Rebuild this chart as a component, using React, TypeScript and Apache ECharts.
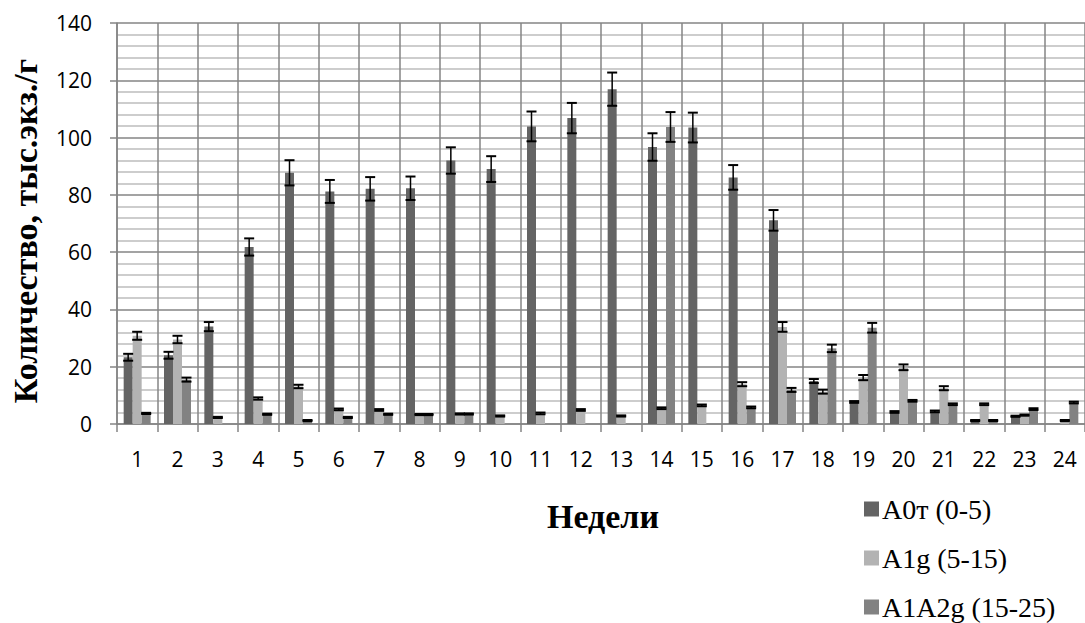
import React, { useEffect, useRef } from "react";
import * as echarts from "echarts";

const weeks = ["1","2","3","4","5","6","7","8","9","10","11","12","13","14","15","16","17","18","19","20","21","22","23","24"];
const seriesNames = ["A0т (0-5)", "A1g (5-15)", "A1A2g (15-25)"];
const yTicks = [0, 20, 40, 60, 80, 100, 120, 140];

const a0t = [23.3, 24.0, 34.0, 61.8, 87.7, 81.2, 82.1, 82.3, 92.0, 89.0, 103.9, 106.8, 116.9, 96.7, 103.5, 86.1, 71.1, 15.0, 7.7, 4.2, 4.4, 1.2, 2.7, null];
const a0tErr = [1.2, 1.2, 1.6, 3.0, 4.4, 4.0, 4.1, 4.1, 4.6, 4.5, 5.2, 5.3, 5.8, 4.8, 5.2, 4.3, 3.6, 0.7, 0.3, 0.3, 0.3, 0.2, 0.2, 0];
const a1g = [30.8, 29.5, 2.3, 8.9, 13.1, 5.1, 4.9, 3.3, 3.5, 2.8, 3.7, 4.9, 2.8, 5.5, 6.5, 13.9, 33.9, 11.3, 16.2, 19.8, 12.5, 6.9, 3.1, 1.2];
const a1gErr = [1.4, 1.3, 0.2, 0.4, 0.6, 0.3, 0.3, 0.2, 0.2, 0.2, 0.3, 0.3, 0.2, 0.3, 0.3, 0.7, 1.7, 0.7, 0.9, 1.0, 0.7, 0.3, 0.2, 0.2];
const a1a2g = [3.7, 15.5, null, 3.4, 1.2, 2.3, 3.4, 3.3, 3.5, null, null, null, null, 103.7, null, 5.8, 11.9, 26.4, 33.6, 8.1, 6.9, 1.2, 5.2, 7.5];
const a1a2gErr = [0.2, 0.7, 0, 0.2, 0.2, 0.2, 0.2, 0.2, 0.2, 0, 0, 0, 0, 5.2, 0, 0.3, 0.7, 1.3, 1.7, 0.3, 0.3, 0.2, 0.3, 0.3];

const colors = ["#646464", "#b3b3b3", "#828282"];
const BAR_W = 9;

function errData(vals: (number | null)[], errs: number[]) {
  const out: any[] = [];
  vals.forEach((v, i) => {
    if (v !== null && v !== undefined) out.push([i, v, errs[i]]);
  });
  return out;
}

function errSeries(vals: (number | null)[], errs: number[], idx: number) {
  const offset = (idx - 1) * BAR_W;
  return {
    type: "custom",
    name: seriesNames[idx] + " err",
    z: 5,
    silent: true,
    data: errData(vals, errs),
    encode: { x: 0, y: 1 },
    renderItem: (params: any, api: any) => {
      const x = api.value(0);
      const v = api.value(1);
      const e = api.value(2);
      const hi = api.coord([x, v + e]);
      const lo = api.coord([x, v - e]);
      const cx = hi[0] + offset;
      const half = 5;
      const st = { stroke: "#000", lineWidth: 2 };
      return {
        type: "group",
        children: [
          { type: "line", shape: { x1: cx, y1: hi[1], x2: cx, y2: lo[1] }, style: { stroke: "#000", lineWidth: 1.5 } },
          { type: "line", shape: { x1: cx - half, y1: hi[1], x2: cx + half, y2: hi[1] }, style: st },
          { type: "line", shape: { x1: cx - half, y1: lo[1], x2: cx + half, y2: lo[1] }, style: st },
        ],
      };
    },
  };
}

export default function App() {
  const ref = useRef<HTMLDivElement>(null);
  useEffect(() => {
    document.body.style.margin = "0";
    const chart = echarts.init(ref.current!, null, { renderer: "svg" });
    const gridColor = "#858585";
    const labelFont = "'Open Sans', 'Liberation Sans', sans-serif";
    const serif = "'Liberation Serif', 'DejaVu Serif', serif";
    chart.setOption({
      animation: false,
      backgroundColor: "#ffffff",
      color: colors,
      grid: { left: 117, top: 23, right: -4, bottom: 199, containLabel: false },
      legend: {
        orient: "vertical",
        left: 859,
        top: 490,
        height: 133,
        icon: "rect",
        itemWidth: 15,
        itemHeight: 15,
        itemGap: 21,
        data: seriesNames,
        textStyle: { fontFamily: serif, fontSize: 28, color: "#000", padding: [0, 0, 0, -2] },
      },
      xAxis: {
        type: "category",
        data: weeks,
        axisLine: { lineStyle: { color: gridColor, width: 1.5 } },
        axisTick: { show: true, length: 8, lineStyle: { color: gridColor, width: 1.5 } },
        splitLine: { show: true, interval: 0, lineStyle: { color: gridColor, width: 1.5 } },
        axisLabel: { interval: 0, margin: 24, fontSize: 21, color: "#000", fontFamily: labelFont },
      },
      yAxis: {
        type: "value",
        min: 0,
        max: 140,
        interval: 20,
        axisLine: { show: true, lineStyle: { color: gridColor, width: 1.5 } },
        axisTick: { show: true, length: 7, lineStyle: { color: gridColor, width: 1.5 } },
        splitLine: { show: true, lineStyle: { color: gridColor, width: 1.5 } },
        minorTick: { show: false, splitNumber: 5 },
        minorSplitLine: { show: true, lineStyle: { color: "#bdbdbd", width: 1.5 } },
        axisLabel: {
          margin: 25,
          fontSize: 21,
          color: "#000",
          fontFamily: labelFont,
          formatter: (v: number) => (yTicks.includes(v) ? String(v) : ""),
        },
      },
      graphic: [
        {
          type: "text",
          x: 25,
          y: 231,
          rotation: Math.PI / 2,
          style: {
            text: "Количество, тыс.экз./г",
            fontFamily: serif,
            fontWeight: "bold",
            fontSize: 34,
            fill: "#000",
            textAlign: "center",
            textVerticalAlign: "middle",
          },
        },
        {
          type: "text",
          x: 603,
          y: 516,
          style: {
            text: "Недели",
            fontFamily: serif,
            fontWeight: "bold",
            fontSize: 34,
            fill: "#000",
            textAlign: "center",
            textVerticalAlign: "middle",
          },
        },
      ],
      series: [
        { type: "bar", name: seriesNames[0], data: a0t, barWidth: BAR_W, barGap: "0%", itemStyle: { color: colors[0] } },
        { type: "bar", name: seriesNames[1], data: a1g, barWidth: BAR_W, barGap: "0%", itemStyle: { color: colors[1] } },
        { type: "bar", name: seriesNames[2], data: a1a2g, barWidth: BAR_W, barGap: "0%", itemStyle: { color: colors[2] } },
        errSeries(a0t, a0tErr, 0),
        errSeries(a1g, a1gErr, 1),
        errSeries(a1a2g, a1a2gErr, 2),
      ],
    });
    return () => chart.dispose();
  }, []);
  return <div ref={ref} style={{ width: 1085, height: 623 }} />;
}
